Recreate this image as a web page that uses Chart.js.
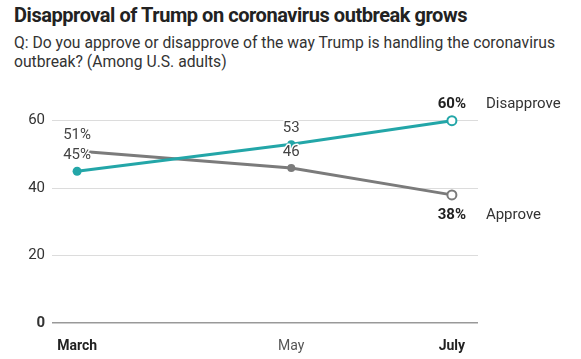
<!DOCTYPE html>
<html>
<head>
<meta charset="utf-8">
<script src="https://cdn.jsdelivr.net/npm/chart.js@4"></script>
<style>
  html, body { margin: 0; padding: 0; background: #fff; }
  body { width: 581px; height: 359px; position: relative; overflow: hidden; font-family: Roboto, "Open Sans", sans-serif; }
  #title { position: absolute; left: 14px; top: 3px; font-size: 20px; font-weight: 700; color: #222; letter-spacing: -0.45px; white-space: nowrap; }
  #subtitle { position: absolute; left: 14px; top: 33px; font-size: 15.7px; color: #333; line-height: 19px; width: 565px; }
  #wrap { position: absolute; left: 0; top: 0; width: 581px; height: 359px; }
</style>
</head>
<body>
<div id="title">Disapproval of Trump on coronavirus outbreak grows</div>
<div id="subtitle">Q: Do you approve or disapprove of the way Trump is handling the coronavirus outbreak? (Among U.S. adults)</div>
<div id="wrap"><canvas id="chart" width="581" height="359"></canvas></div>
<script>
// poll months and their (approximate) day-of-year, so the spacing matches the survey dates
const months = ['March', 'May', 'July'];
const monthDays = [84, 148, 196];
const disapprove = [45, 53, 60];
const approve = [51, 46, 38];
const disapproveLabels = ['45%', '53', '60%'];
const approveLabels = ['51%', '46', '38%'];
const yTicks = [0, 20, 40, 60];

const teal = '#23a6a8';
const gray = '#7b7b7b';

function toPoints(values) {
    return values.map(function (v, i) { return { x: monthDays[i], y: v }; });
}

const last = months.length - 1;

const labelPlugin = {
    id: 'pointLabels',
    afterDatasetsDraw: function (chart) {
        const ctx = chart.ctx;
        const sets = [
            { meta: chart.getDatasetMeta(0), labels: disapproveLabels, offsets: [-16, -16, -16], name: 'Disapprove' },
            { meta: chart.getDatasetMeta(1), labels: approveLabels, offsets: [-16, -16, 20], name: 'Approve' }
        ];
        ctx.save();
        ctx.textBaseline = 'middle';
        sets.forEach(function (s) {
            s.meta.data.forEach(function (pt, i) {
                const bold = i === last;
                ctx.font = (bold ? '700 ' : '400 ') + '15px Roboto';
                ctx.textAlign = 'center';
                ctx.lineWidth = 3;
                ctx.strokeStyle = '#fff';
                ctx.lineJoin = 'round';
                const y = pt.y + s.offsets[i];
                ctx.strokeText(s.labels[i], pt.x, y);
                ctx.fillStyle = bold ? '#222' : '#444';
                ctx.fillText(s.labels[i], pt.x, y);
                if (bold) {
                    ctx.font = '400 15px Roboto';
                    ctx.textAlign = 'left';
                    ctx.fillStyle = '#333';
                    ctx.fillText(s.name, pt.x + 34, y);
                }
            });
        });
        ctx.restore();
    }
};

function pointFill(color) {
    return months.map(function (m, i) { return i === last ? '#fff' : color; });
}

new Chart(document.getElementById('chart').getContext('2d'), {
    type: 'line',
    data: {
        datasets: [{
            label: 'Disapprove',
            data: toPoints(disapprove),
            borderColor: teal,
            borderWidth: 3,
            pointBackgroundColor: pointFill(teal),
            pointBorderColor: teal,
            pointBorderWidth: [0, 0, 2],
            pointRadius: [4.5, 4, 4.5],
            tension: 0
        }, {
            label: 'Approve',
            data: toPoints(approve),
            borderColor: gray,
            borderWidth: 3,
            pointBackgroundColor: pointFill(gray),
            pointBorderColor: gray,
            pointBorderWidth: [0, 0, 2],
            pointRadius: [3, 4, 4.5],
            tension: 0
        }]
    },
    options: {
        responsive: false,
        animation: false,
        layout: { padding: { top: 87, right: 103, bottom: 4, left: 0 } },
        plugins: {
            legend: { display: false },
            tooltip: { enabled: false }
        },
        scales: {
            x: {
                type: 'linear',
                min: 76.5,
                max: 203.8,
                afterBuildTicks: function (axis) {
                    axis.ticks = monthDays.map(function (d) { return { value: d }; });
                },
                afterFit: function (axis) { axis.height = 32; },
                ticks: {
                    autoSkip: false,
                    maxRotation: 0,
                    padding: 7,
                    callback: function (value) {
                        const i = monthDays.indexOf(value);
                        return i >= 0 ? months[i] : '';
                    },
                    font: function (c) {
                        const i = c.index;
                        return { family: 'Roboto', size: 14, weight: (i === 1 ? '400' : '700') };
                    },
                    color: function (c) { return c.index === 1 ? '#555' : '#222'; }
                },
                grid: { display: false },
                border: { display: false }
            },
            y: {
                min: 0,
                max: 70,
                afterBuildTicks: function (axis) {
                    axis.ticks = yTicks.map(function (v) { return { value: v }; });
                },
                afterFit: function (axis) { axis.width = 52; },
                ticks: {
                    padding: 7,
                    font: function (c) {
                        return { family: 'Roboto', size: 15, weight: (c.tick && c.tick.value === 0 ? '700' : '400') };
                    },
                    color: '#333'
                },
                grid: {
                    drawTicks: false,
                    color: function (c) { return c.tick && c.tick.value === 0 ? '#999' : '#dcdcdc'; },
                    lineWidth: function (c) { return c.tick && c.tick.value === 0 ? 1.5 : 1; }
                },
                border: { display: false }
            }
        }
    },
    plugins: [labelPlugin]
});
</script>
</body>
</html>
